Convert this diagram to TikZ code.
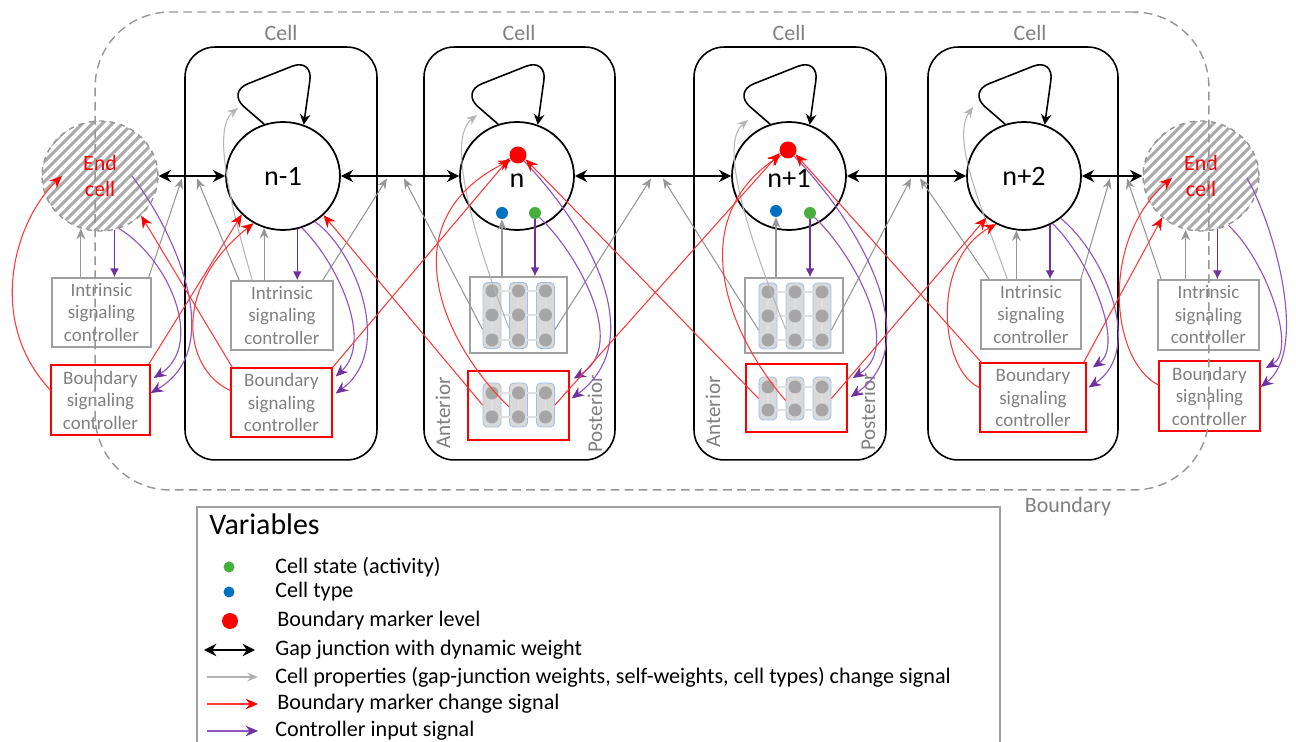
\documentclass[tikz,border=0pt]{standalone}
\usepackage{fontspec}
\setmainfont{Carlito}
\usetikzlibrary{arrows.meta,shapes.geometric,calc}
\definecolor{lgray}{RGB}{160,160,160}
\definecolor{tgray}{RGB}{128,128,128}
\definecolor{agray}{RGB}{150,150,150}
\definecolor{sred}{RGB}{255,0,0}
\definecolor{lred}{RGB}{255,55,55}
\definecolor{ppl}{RGB}{112,48,160}
\definecolor{lppl}{RGB}{145,85,195}
\definecolor{dblue}{RGB}{0,112,192}
\definecolor{dgreen}{RGB}{70,175,60}
\definecolor{colfill}{RGB}{217,217,217}
\definecolor{colbord}{RGB}{165,190,222}
\definecolor{dotgray}{RGB}{166,166,166}
\definecolor{hatch}{RGB}{170,170,170}
\tikzset{
 cellbox/.style={draw=black, line width=0.9pt, rounded corners=0.6cm, minimum width=3.84cm, minimum height=8.26cm, inner sep=0pt},
 celllbl/.style={text=tgray, font=\fontsize{12.5}{14}\selectfont, inner sep=0pt},
 neuron/.style={ellipse, draw=black, line width=1pt, minimum width=2.28cm, minimum height=2.16cm, inner sep=0pt, font=\fontsize{16}{18}\selectfont},
 endcell/.style={ellipse, draw=agray, dashed, line width=0.8pt, minimum width=2.32cm, minimum height=2.2cm, inner sep=0pt, text=sred, align=center, font=\fontsize{12.5}{14.5}\selectfont},
 hatchln/.style={draw=hatch, line width=1.7pt},
 ctrl/.style={draw=lgray, line width=0.85pt, text=tgray, align=center, inner sep=0pt, font=\fontsize{10.8}{12.8}\selectfont},
 bctrl/.style={ctrl, draw=sred},
 gridbox/.style={draw=lgray, line width=0.85pt, inner sep=0pt},
 bgridbox/.style={draw=sred, line width=0.85pt, inner sep=0pt},
 colbox/.style={draw=colbord, fill=colfill, rounded corners=2.5pt, line width=0.5pt, minimum width=0.36cm, inner sep=0pt},
 gridln/.style={draw=black!12, line width=0.6pt},
 gdot/.style={circle, fill=dotgray, minimum size=0.26cm, inner sep=0pt},
 vdot/.style={circle, inner sep=0pt},
 sidelbl/.style={rotate=90, text=tgray, font=\fontsize{12}{14}\selectfont, inner sep=0pt},
 gapj/.style={draw=black, line width=1.4pt, {Stealth[length=7pt,width=7pt]}-{Stealth[length=7pt,width=7pt]}},
 garrow/.style={draw=agray, line width=0.6pt, -{Stealth[length=6pt,width=5pt]}},
 rarrow/.style={draw=lred, line width=0.6pt, -{Stealth[length=7pt,width=6pt,color=sred]}},
 parrow/.style={draw=lppl, line width=0.65pt, -{Stealth[length=7pt,width=6pt,color=ppl]}},
 pdown/.style={draw=ppl, line width=0.7pt, -{Latex[length=5pt,width=5pt]}},
 selfloop/.style={draw=black, line width=0.9pt, rounded corners=0.45cm, -{Stealth[length=6pt,width=6pt]}},
 legtext/.style={anchor=west, font=\fontsize{12.6}{14}\selectfont, inner sep=0pt},
}
\begin{document}
\begin{tikzpicture}[x=0.02cm,y=-0.02cm]
\useasboundingbox (0,0) rectangle (1296,742);

% ---------- cells ----------
\node[cellbox, minimum width=3.84cm] (cell1) at (281,253.5) {};
\node[cellbox, minimum width=3.82cm] (cell2) at (519.5,253.5) {};
\node[cellbox, minimum width=3.84cm] (cell3) at (790,253.5) {};
\node[cellbox, minimum width=3.80cm] (cell4) at (1023,253.5) {};
\node[celllbl] (lab1) at (281,33) {Cell};
\node[celllbl] (lab2) at (519,33) {Cell};
\node[celllbl] (lab3) at (789,33) {Cell};
\node[celllbl] (lab4) at (1030,33) {Cell};

% ---------- controllers ----------
\node[ctrl, minimum width=1.98cm, minimum height=1.38cm] (iL) at (101.5,312.5) {Intrinsic\\signaling\\controller};
\node[ctrl, minimum width=2.04cm, minimum height=1.38cm] (i1) at (282,315.5) {Intrinsic\\signaling\\controller};
\node[ctrl, minimum width=2.00cm, minimum height=1.38cm] (i4) at (1031,314.5) {Intrinsic\\signaling\\controller};
\node[ctrl, minimum width=2.02cm, minimum height=1.40cm] (iR) at (1208.5,315) {Intrinsic\\signaling\\controller};
\node[bctrl, minimum width=1.98cm, minimum height=1.40cm] (bL) at (100.5,400) {Boundary\\signaling\\controller};
\node[bctrl, minimum width=2.02cm, minimum height=1.38cm] (b1) at (281.5,402.5) {Boundary\\signaling\\controller};
\node[bctrl, minimum width=2.12cm, minimum height=1.38cm] (b4) at (1033,397.5) {Boundary\\signaling\\controller};
\node[bctrl, minimum width=2.02cm, minimum height=1.40cm] (bR) at (1209.5,396) {Boundary\\signaling\\controller};

% ---------- grid controllers ----------
\node[gridbox, minimum width=1.94cm, minimum height=1.52cm] (i2) at (518.5,315) {};
\node[bgridbox, minimum width=2.02cm, minimum height=1.38cm] (b2) at (518.5,405.5) {};
\node[gridbox, minimum width=1.96cm, minimum height=1.50cm] (i3) at (794,315.5) {};
\node[bgridbox, minimum width=2.02cm, minimum height=1.36cm] (b3) at (796.5,398) {};

\foreach \x [count=\i] in {492,518.5,545.5} {
  \node[colbox, minimum height=1.32cm] (i2c\i) at (\x,315.5) {};
  \node[colbox, minimum height=0.88cm] (b2c\i) at (\x,405) {};
}
\foreach \x [count=\i] in {768,795,822} {
  \node[colbox, minimum height=1.32cm] (i3c\i) at (\x,316) {};
  \node[colbox, minimum height=0.86cm] (b3c\i) at (\x,398.5) {};
}
\foreach \y in {291,315,340} \draw[gridln] (492,\y) -- (545.5,\y);
\foreach \y in {393,417} \draw[gridln] (492,\y) -- (545.5,\y);
\foreach \y in {292,316,340} \draw[gridln] (768,\y) -- (822,\y);
\foreach \y in {387,410} \draw[gridln] (768,\y) -- (822,\y);
\foreach \x [count=\i] in {492,518.5,545.5} {
  \draw[gridln] (\x,291) -- (\x,340);
  \draw[gridln] (\x,393) -- (\x,417);
  \foreach \y [count=\j] in {291,315,340} \node[gdot] (i2d\i\j) at (\x,\y) {};
  \foreach \y [count=\j] in {393,417} \node[gdot] (b2d\i\j) at (\x,\y) {};
}
\foreach \x [count=\i] in {768,795,822} {
  \draw[gridln] (\x,292) -- (\x,340);
  \draw[gridln] (\x,387) -- (\x,410);
  \foreach \y [count=\j] in {292,316,340} \node[gdot] (i3d\i\j) at (\x,\y) {};
  \foreach \y [count=\j] in {387,410} \node[gdot] (b3d\i\j) at (\x,\y) {};
}
\node[sidelbl] (ant2) at (443,413) {Anterior};
\node[sidelbl] (pos2) at (595,414) {Posterior};
\node[sidelbl] (ant3) at (713,412) {Anterior};
\node[sidelbl] (pos3) at (868,412) {Posterior};

% ---------- hatching of the end cells ----------
\foreach \cx in {100,1201} {
  \begin{scope}
    \clip (\cx,176) ellipse [x radius=58, y radius=55];
    \foreach \k in {-140,-130,...,140} \draw[hatchln] (\cx+\k-70,246) -- (\cx+\k+70,106);
  \end{scope}
}

% ---------- cell circles ----------
\node[endcell] (cL) at (100,176) {End\\cell};
\node[neuron] (c1) at (283,176) {n-1};
\node[neuron] (c2) at (517,176) {};
\node[neuron] (c3) at (789,176) {};
\node[neuron] (c4) at (1024,176) {n+2};
\node[endcell] (cR) at (1201,176) {End\\cell};
\node[font=\fontsize{16}{18}\selectfont, inner sep=0pt] (t2) at (517,181) {n};
\node[font=\fontsize{16}{18}\selectfont, inner sep=0pt] (t3) at (789,178) {n+1};
\node[vdot, fill=sred, minimum size=0.34cm] (red2) at (518,155) {};
\node[vdot, fill=dblue, minimum size=0.24cm] (blue2) at (502,213) {};
\node[vdot, fill=dgreen, minimum size=0.24cm] (green2) at (535,213) {};
\node[vdot, fill=sred, minimum size=0.34cm] (red3) at (788,150) {};
\node[vdot, fill=dblue, minimum size=0.24cm] (blue3) at (776,211) {};
\node[vdot, fill=dgreen, minimum size=0.24cm] (green3) at (810,213) {};

% ---------- boundary ----------
\node[draw=agray, dashed, dash pattern=on 5pt off 3pt, line width=0.8pt, rounded corners=1.5cm, minimum width=22.28cm, minimum height=9.56cm, inner sep=0pt] (bnd) at (652,251) {};
\node[celllbl] (bndlbl) at (1068,507) {Boundary};

% ---------- self loops ----------
\foreach \c in {c1,c2,c3,c4} {
  \draw[selfloop] (\c.110) -- ($(\c.center)+(-56,-84)$) -- ($(\c.center)+(30,-118)$) -- (\c.68);
}

% ---------- gap junctions ----------
\draw[gapj] (cL.east) -- (c1.west);
\draw[gapj] (c1.east) -- (c2.west);
\draw[gapj] (c2.east) -- (c3.west);
\draw[gapj] (c3.east) -- (c4.west);
\draw[gapj] (c4.east) -- (cR.west);

\coordinate (j1a) at (182,178.5);
\coordinate (j1b) at (197,178.5);
\coordinate (j2a) at (387,178.5);
\coordinate (j2b) at (404,178.5);
\coordinate (j3a) at (651,178.5);
\coordinate (j3b) at (663,178.5);
\coordinate (j4a) at (911,178.5);
\coordinate (j4b) at (920,178.5);
\coordinate (j5a) at (1110,178.5);
\coordinate (j5b) at (1127,178.5);

% ---------- gray: cell property change ----------
\draw[garrow] ($(iL.north east)+(-3,0)$) -- (j1a);
\draw[garrow] ($(i1.north west)+(9,0)$) -- (j1b);
\draw[garrow] ($(i1.north east)+(-11,0)$) -- (j2a);
\draw[garrow] ($(i2c1.west)+(0,14)$) -- (j2b);
\draw[garrow] ($(i2c3.east)+(0,14)$) -- (j3a);
\draw[garrow] ($(i3c1.west)+(0,14)$) -- (j3b);
\draw[garrow] ($(i3c3.east)+(0,14)$) -- (j4a);
\draw[garrow] ($(i4.north west)+(9,0)$) -- (j4b);
\draw[garrow] ($(i4.north east)+(-1,0)$) -- (j5a);
\draw[garrow] ($(iR.north west)+(4,0)$) -- (j5b);

\draw[garrow] (iL.north -| cL.250) -- (cL.250);
\draw[garrow] (i1.north -| c1.250) -- (c1.250);
\draw[garrow] (blue2 |- i2.north) -- (blue2.south);
\draw[garrow] (blue3 |- i3.north) -- (blue3.south);
\draw[garrow] (i4.north -| c4.262) -- (c4.262);
\draw[garrow] (iR.north -| cR.254) -- (cR.254);

\coordinate (g1) at ($(c1.center)+(-45,-68)$);
\coordinate (g2) at ($(c2.center)+(-40,-61)$);
\coordinate (g3) at ($(c3.center)+(-41,-56)$);
\coordinate (g4) at ($(c4.center)+(-51,-69)$);
\draw[garrow, draw=agray!70] ($(i1.north west)+(22,0)$) .. controls (235,220) and (210,130) .. (g1);
\draw[garrow, draw=agray!70] ($(i2c2.west)+(0,13)$) .. controls (475,240) and (445,140) .. (g2);
\draw[garrow, draw=agray!70] ($(i3c2.west)+(0,13)$) .. controls (750,240) and (718,145) .. (g3);
\draw[garrow, draw=agray!70] ($(i4.north west)+(27,0)$) .. controls (985,215) and (950,140) .. (g4);

% ---------- purple: controller input ----------
\draw[pdown] (cL.285) -- (cL.285 |- iL.north);
\draw[pdown] (c1.285) -- (c1.285 |- i1.north);
\draw[pdown] (green2.south) -- (green2 |- i2.north);
\draw[pdown] (green3.south) -- (green3 |- i3.north);
\draw[pdown] (c4.298) -- (c4.298 |- i4.north);
\draw[pdown] (cR.287) -- (cR.287 |- iR.north);

\coordinate (pL) at ($(cL.center)+(32,0)$);
\coordinate (pR) at ($(cR.center)+(46,2)$);
\draw[parrow] (cL.290) .. controls (170,260) and (205,345) .. ($(bL.east)+(3,-22)$);
\draw[parrow] (pL) .. controls (180,240) and (225,350) .. ($(bL.east)+(0,-7)$);
\draw[parrow] (c1.290) .. controls (335,260) and (375,340) .. ($(b1.east)+(3,-26)$);
\draw[parrow] (c1.305) .. controls (355,250) and (395,350) .. ($(b1.east)+(3,-9)$);
\draw[parrow] (green2.south east) .. controls (575,250) and (630,345) .. ($(b2.east)+(4,-27)$);
\draw[parrow] (red2.south east) .. controls (590,230) and (650,340) .. ($(b2.east)+(2,-7)$);
\draw[parrow] (green3.south east) .. controls (850,250) and (905,345) .. ($(b3.east)+(5,-20)$);
\draw[parrow] (red3.south east) .. controls (865,230) and (925,345) .. ($(b3.east)+(3,-1)$);
\draw[parrow] (c4.301) .. controls (1090,260) and (1125,345) .. ($(b4.east)+(6,-30)$);
\draw[parrow] (c4.311) .. controls (1105,255) and (1145,350) .. ($(b4.east)+(2,-10)$);
\draw[parrow] (cR.299) .. controls (1266,260) and (1298,350) .. ($(bR.east)+(5,-28)$);
\draw[parrow] (pR) .. controls (1276,230) and (1308,350) .. ($(bR.east)+(0,-9)$);

% ---------- red: boundary marker change ----------
\coordinate (eL) at ($(cL.center)+(-38,0)$);
\coordinate (eR) at ($(cR.center)+(-29,2)$);
\draw[rarrow] ($(bL.west)+(0,-10)$) .. controls (-15,320) and (15,220) .. (eL);
\draw[rarrow] ($(bL.north east)+(-2,0)$) -- (c1.223);
\draw[rarrow] ($(b1.west)+(0,-12)$) .. controls (185,370) and (170,290) .. (c1.238);
\draw[rarrow] ($(b1.north west)+(2,0)$) -- (cL.316);
\draw[rarrow] (b1.north east) -- (red2.200);
\draw[rarrow] (b2c1.west) -- (c1.316);
\draw[rarrow] ($(b2c2.west)+(0,2)$) .. controls (440,340) and (390,220) .. (red2.215);
\draw[rarrow] (b2c3.east) -- (red3.200);
\draw[rarrow] (b3c1.west) -- (red2.330);
\draw[rarrow] ($(b3c2.west)+(0,2)$) .. controls (725,330) and (686,220) .. (red3.215);
\draw[rarrow] (b3c3.east) -- (c4.228);
\draw[rarrow] ($(b4.west)+(0,-10)$) .. controls (940,370) and (930,260) .. (c4.240);
\draw[rarrow] ($(b4.north west)+(2,0)$) -- (red3.330);
\draw[rarrow] ($(b4.north east)+(-3,0)$) -- (cR.227);
\draw[rarrow] ($(bR.west)+(0,-11)$) .. controls (1110,360) and (1100,240) .. (eR);

% ---------- legend ----------
\draw[draw=lgray, line width=0.8pt] (197,507) rectangle (1000,800);
\node[anchor=base west, font=\fontsize{17}{19}\selectfont, inner sep=0pt] (vars) at (209,535) {Variables};
\node[vdot, fill=dgreen, minimum size=0.22cm] (lgreen) at (229,567) {};
\node[vdot, fill=dblue, minimum size=0.22cm] (lblue) at (229,592) {};
\node[vdot, fill=sred, minimum size=0.32cm] (lred) at (230,621) {};
\coordinate (la1) at (204,650); \coordinate (la2) at (255,650);
\coordinate (lb1) at (207,677); \coordinate (lb2) at (258,677);
\coordinate (lc1) at (207,704); \coordinate (lc2) at (258,704);
\coordinate (ld1) at (207,731); \coordinate (ld2) at (258,731);
\draw[gapj, line width=1.1pt] (la1) -- (la2);
\draw[garrow, line width=1pt, draw=black!30] (lb1) -- (lb2);
\draw[rarrow, line width=0.8pt] (lc1) -- (lc2);
\draw[parrow, line width=1pt] (ld1) -- (ld2);
\node[legtext] (lt1) at (275,567) {Cell state (activity)};
\node[legtext] (lt2) at (275,592) {Cell type};
\node[legtext] (lt3) at (277,621) {Boundary marker level};
\node[legtext] (lt4) at (275,650) {Gap junction with dynamic weight};
\node[legtext] (lt5) at (275,677) {Cell properties (gap-junction weights, self-weights, cell types) change signal};
\node[legtext] (lt6) at (277,704) {Boundary marker change signal};
\node[legtext] (lt7) at (275,731) {Controller input signal};
\end{tikzpicture}
\end{document}
